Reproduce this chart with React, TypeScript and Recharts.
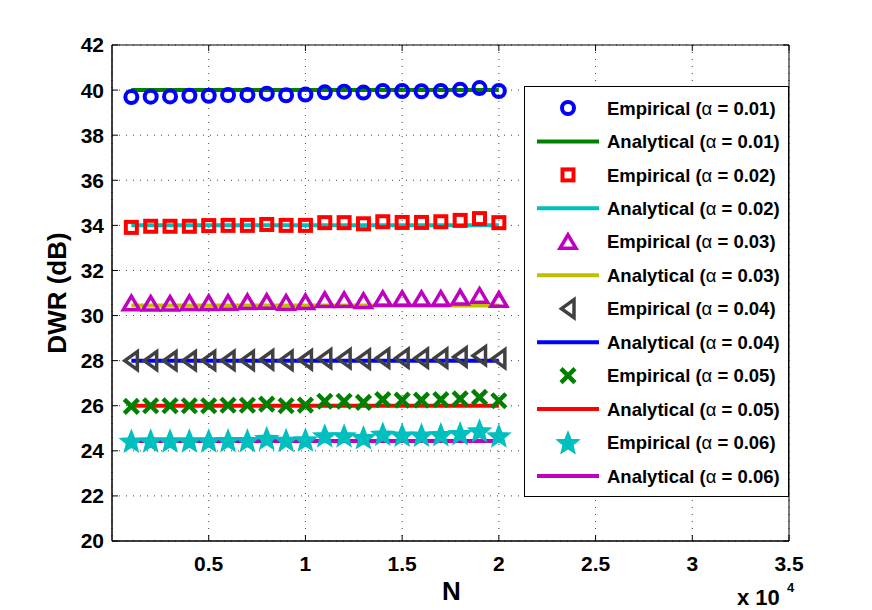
import React from "react";
import {
  ComposedChart,
  Line,
  XAxis,
  YAxis,
  CartesianGrid,
  Legend,
  ReferenceArea,
} from "recharts";

// block sizes N and the DWR values
const nValues = [
  1000, 2000, 3000, 4000, 5000, 6000, 7000, 8000, 9000, 10000,
  11000, 12000, 13000, 14000, 15000, 16000, 17000, 18000, 19000, 20000,
];

const empirical001 = [
  39.69, 39.71, 39.72, 39.75, 39.75, 39.78, 39.78, 39.84, 39.77, 39.8,
  39.9, 39.93, 39.89, 39.96, 39.96, 39.95, 39.96, 40.02, 40.09, 39.96,
];
const empirical002 = [
  33.91, 33.96, 33.96, 33.96, 33.99, 34.0, 34.0, 34.04, 34.0, 34.0,
  34.12, 34.12, 34.07, 34.16, 34.13, 34.13, 34.16, 34.22, 34.3, 34.12,
];
const empirical003 = [
  30.55, 30.53, 30.53, 30.56, 30.56, 30.57, 30.6, 30.61, 30.57, 30.6,
  30.69, 30.69, 30.65, 30.74, 30.74, 30.74, 30.75, 30.8, 30.88, 30.7,
];
const empirical004 = [
  28.0, 28.0, 28.0, 28.0, 28.01, 28.01, 28.01, 28.04, 28.01, 28.04,
  28.09, 28.09, 28.07, 28.11, 28.11, 28.11, 28.11, 28.16, 28.22, 28.09,
];
const empirical005 = [
  25.97, 26.0, 26.0, 26.0, 26.0, 26.02, 26.02, 26.07, 26.0, 26.03,
  26.2, 26.2, 26.15, 26.27, 26.25, 26.25, 26.27, 26.3, 26.37, 26.22,
];
const empirical006 = [
  24.43, 24.44, 24.44, 24.44, 24.45, 24.46, 24.46, 24.55, 24.47, 24.49,
  24.67, 24.67, 24.59, 24.74, 24.7, 24.7, 24.72, 24.77, 24.89, 24.67,
];

// analytical curves are flat in the plot
const analyticalLevels = [40.0, 34.0, 30.45, 28.0, 26.0, 24.43];
const alphaLabels = ["0.01", "0.02", "0.03", "0.04", "0.05", "0.06"];

const xTicks = [5000, 10000, 15000, 20000, 25000, 30000, 35000];
const yTicks = [20, 22, 24, 26, 28, 30, 32, 34, 36, 38, 40, 42];

const FONT = '"Liberation Sans", Arial, Helvetica, sans-serif';

// plot box in page pixels (used only for the little inward tick marks)
const BOX = { left: 112, right: 789, top: 45, bottom: 541 };

type MarkerKind = "circle" | "square" | "triUp" | "triLeft" | "cross" | "star";

const empiricalStyles: { marker: MarkerKind; color: string }[] = [
  { marker: "circle", color: "#0000ff" },
  { marker: "square", color: "#ff0000" },
  { marker: "triUp", color: "#bf00bf" },
  { marker: "triLeft", color: "#404040" },
  { marker: "cross", color: "#008000" },
  { marker: "star", color: "#00bfbf" },
];
const analyticalColors = ["#008000", "#00bfbf", "#bfbf00", "#0000ff", "#ff0000", "#bf00bf"];

const empiricalSeries = [
  empirical001,
  empirical002,
  empirical003,
  empirical004,
  empirical005,
  empirical006,
];

const rows = nValues.map((n, i) => {
  const row: Record<string, number> = { n };
  empiricalSeries.forEach((s, k) => {
    row[`emp${k}`] = s[i];
    row[`ana${k}`] = analyticalLevels[k];
  });
  return row;
});

const starPoints = (cx: number, cy: number, outer: number, inner: number) => {
  const pts: string[] = [];
  for (let i = 0; i < 10; i++) {
    const r = i % 2 === 0 ? outer : inner;
    const a = -Math.PI / 2 + (i * Math.PI) / 5;
    pts.push(`${cx + r * Math.cos(a)},${cy + r * Math.sin(a)}`);
  }
  return pts.join(" ");
};

const Marker = ({ kind, cx, cy, color }: { kind: MarkerKind; cx: number; cy: number; color: string }) => {
  if (cx == null || cy == null) return null;
  switch (kind) {
    case "circle":
      return <circle cx={cx} cy={cy} r={6} fill="none" stroke={color} strokeWidth={4} />;
    case "square":
      return <rect x={cx - 5.5} y={cy - 5.5} width={11} height={11} fill="none" stroke={color} strokeWidth={4} />;
    case "triUp":
      return (
        <polygon
          points={`${cx},${cy - 7} ${cx + 8},${cy + 6.5} ${cx - 8},${cy + 6.5}`}
          fill="none"
          stroke={color}
          strokeWidth={3.5}
        />
      );
    case "triLeft":
      return (
        <polygon
          points={`${cx - 6.5},${cy} ${cx + 6},${cy - 9} ${cx + 6},${cy + 9}`}
          fill="none"
          stroke={color}
          strokeWidth={3.5}
        />
      );
    case "cross":
      return (
        <g stroke={color} strokeWidth={4.5}>
          <line x1={cx - 7} y1={cy - 7} x2={cx + 7} y2={cy + 7} />
          <line x1={cx - 7} y1={cy + 7} x2={cx + 7} y2={cy - 7} />
        </g>
      );
    case "star":
      return <polygon points={starPoints(cx, cy + 1, 11.5, 5)} fill={color} stroke={color} strokeWidth={1.5} />;
    default:
      return null;
  }
};

const XTick = (props: any) => {
  const { x, y, payload } = props;
  const c = payload.coordinate;
  return (
    <g>
      <line x1={c} x2={c} y1={BOX.bottom} y2={BOX.bottom - 6} stroke="#000" />
      <line x1={c} x2={c} y1={BOX.top} y2={BOX.top + 6} stroke="#000" />
      <text x={x} y={y} dy="0.71em" textAnchor="middle" fontFamily={FONT} fontSize={21} fontWeight="bold" fill="#000">
        {`${payload.value / 10000}`}
      </text>
    </g>
  );
};

const YTick = (props: any) => {
  const { x, y, payload } = props;
  const c = payload.coordinate;
  return (
    <g>
      <line x1={BOX.left} x2={BOX.left + 6} y1={c} y2={c} stroke="#000" />
      <line x1={BOX.right} x2={BOX.right - 6} y1={c} y2={c} stroke="#000" />
      <text x={x} y={y} dy="0.355em" textAnchor="end" fontFamily={FONT} fontSize={21} fontWeight="bold" fill="#000">
        {payload.value}
      </text>
    </g>
  );
};

const LegendBox = () => {
  const rowsY = Array.from({ length: 12 }, (_, i) => 22 + i * 33.45);
  return (
    <svg width={265} height={411} style={{ display: "block" }}>
      <rect x={0.5} y={0.5} width={264} height={410} fill="#fff" stroke="#000" strokeWidth={1} />
      {rowsY.map((y, i) => {
        const k = Math.floor(i / 2);
        const isEmp = i % 2 === 0;
        return (
          <g key={i}>
            {isEmp ? (
              <Marker kind={empiricalStyles[k].marker} cx={44} cy={y} color={empiricalStyles[k].color} />
            ) : (
              <line x1={13} x2={75} y1={y} y2={y} stroke={analyticalColors[k]} strokeWidth={4} />
            )}
            <text x={83} y={y} dy="0.36em" fontFamily={FONT} fontSize={18.5} fontWeight="bold" fill="#000">
              {isEmp ? "Empirical (" : "Analytical ("}
              <tspan fontWeight="normal">α</tspan>
              {` = ${alphaLabels[k]})`}
            </text>
          </g>
        );
      })}
    </svg>
  );
};

const App = () => {
  return (
    <div style={{ position: "absolute", left: 0, top: 0, width: 872, height: 610, background: "#fff" }}>
      <ComposedChart
        width={872}
        height={610}
        data={rows}
        margin={{ top: 45, right: 83, bottom: 39, left: 52 }}
      >
        <CartesianGrid stroke="#444" strokeDasharray="1 6" />
        <XAxis
          type="number"
          dataKey="n"
          domain={[0, 35000]}
          ticks={xTicks}
          tickLine={false}
          tickMargin={9}
          height={30}
          axisLine={{ stroke: "#000" }}
          tick={<XTick />}
          label={{
            content: ({ viewBox }: any) => {
              const cx = viewBox.x + viewBox.width / 2;
              return (
                <g fontFamily={FONT} fontWeight="bold" fill="#000">
                  <text x={cx + 1} y={viewBox.y + 59} textAnchor="middle" fontSize={26}>
                    N
                  </text>
                  <text x={737} y={605} fontSize={22}>
                    x 10
                  </text>
                  <text x={787} y={592} fontSize={13}>
                    4
                  </text>
                </g>
              );
            },
          }}
        />
        <YAxis
          type="number"
          domain={[20, 42]}
          ticks={yTicks}
          interval={0}
          tickLine={false}
          width={60}
          axisLine={{ stroke: "#000" }}
          tick={<YTick />}
          label={{
            content: ({ viewBox }: any) => {
              const x = viewBox.x + 5;
              const y = viewBox.y + viewBox.height / 2;
              return (
                <text
                  x={x}
                  y={y}
                  transform={`rotate(-90, ${x}, ${y})`}
                  textAnchor="middle"
                  dominantBaseline="central"
                  fontFamily={FONT}
                  fontWeight="bold"
                  fontSize={26}
                  fill="#000"
                >
                  DWR (dB)
                </text>
              );
            },
          }}
        />
        <ReferenceArea x1={0} x2={35000} y1={20} y2={42} fill="none" stroke="#000" strokeWidth={1} />
        {empiricalStyles.map((st, k) => [
          <Line
            key={`emp${k}`}
            dataKey={`emp${k}`}
            stroke="none"
            isAnimationActive={false}
            activeDot={false}
            dot={(p: any) => (
              <g key={`emp${k}-${p.index}`}>
                <Marker kind={st.marker} cx={p.cx} cy={p.cy} color={st.color} />
              </g>
            )}
          />,
          <Line
            key={`ana${k}`}
            dataKey={`ana${k}`}
            stroke={analyticalColors[k]}
            strokeWidth={4}
            dot={false}
            activeDot={false}
            isAnimationActive={false}
          />,
        ])}
        <Legend
          layout="vertical"
          align="center"
          verticalAlign="middle"
          wrapperStyle={{ left: 524, top: 86, width: 265, height: 411 }}
          content={() => <LegendBox />}
        />
      </ComposedChart>
    </div>
  );
};

export default App;
